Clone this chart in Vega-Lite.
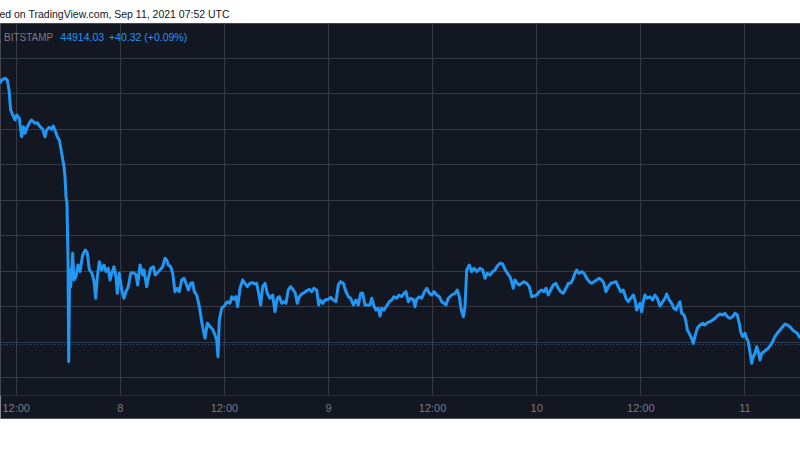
{
"$schema": "https://vega.github.io/schema/vega-lite/v6.json",
"width": 800, "height": 372,
"autosize": {"type": "none"},
"padding": {"left": 0, "right": 0, "top": 23, "bottom": 55},
"background": "#ffffff",
"title": {"text": "Published on TradingView.com, Sep 11, 2021 07:52 UTC", "anchor": "start", "frame": "group", "dx": -35, "dy": 11.5, "offset": 6, "baseline": "alphabetic", "fontSize": 10.5, "font": "Liberation Sans", "fontWeight": "normal", "color": "#131722"},
"config": {"view": {"fill": "#131722", "stroke": "#434651", "strokeWidth": 1}, "font": "Liberation Sans"},
"resolve": {"axis": {"x": "independent"}},
"layer": [
{"data": {"values": [{"label": "last"}]},
 "mark": {"type": "rule", "color": "#2196f3", "strokeDash": [1, 2], "strokeWidth": 1, "opacity": 0.6},
 "encoding": {"y": {"datum": 44914.03, "type": "quantitative", "title": null, "scale": {"domain": [43495, 53974], "nice": false, "zero": false}}}},
{"data": {"values": [
{"hours":10.19,"price":52276},{"hours":10.39,"price":52368},{"hours":10.77,"price":52416},{"hours":11.03,"price":52368},{"hours":11.23,"price":52087},{"hours":11.42,"price":51523},{"hours":11.65,"price":51383},{"hours":11.92,"price":51242},{"hours":12.11,"price":51383},{"hours":12.41,"price":51290},{"hours":12.69,"price":50771},{"hours":12.88,"price":51053},{"hours":13.07,"price":50867},{"hours":13.27,"price":51008},{"hours":13.65,"price":51194},{"hours":13.84,"price":51242},{"hours":14.22,"price":51149},{"hours":14.49,"price":51166},{"hours":14.80,"price":51053},{"hours":15.11,"price":50980},{"hours":15.38,"price":50771},{"hours":15.57,"price":50960},{"hours":15.87,"price":51036},{"hours":16.15,"price":50980},{"hours":16.33,"price":51073},{"hours":16.53,"price":50960},{"hours":16.79,"price":50771},{"hours":17.03,"price":50678},{"hours":17.30,"price":50304},{"hours":17.57,"price":49926},{"hours":17.68,"price":49645},{"hours":17.80,"price":49081},{"hours":17.91,"price":48895},{"hours":17.99,"price":47769},{"hours":18.03,"price":47391},{"hours":18.11,"price":44433},{"hours":18.22,"price":47016},{"hours":18.34,"price":46546},{"hours":18.57,"price":47487},{"hours":18.72,"price":46735},{"hours":18.95,"price":46828},{"hours":19.18,"price":47157},{"hours":19.41,"price":46969},{"hours":19.72,"price":47439},{"hours":20.02,"price":47580},{"hours":20.25,"price":47504},{"hours":20.48,"price":47036},{"hours":20.80,"price":46923},{"hours":21.03,"price":46687},{"hours":21.22,"price":46219},{"hours":21.41,"price":46828},{"hours":21.64,"price":47250},{"hours":21.91,"price":47016},{"hours":22.18,"price":47157},{"hours":22.41,"price":46969},{"hours":22.67,"price":47064},{"hours":22.87,"price":46735},{"hours":23.14,"price":46969},{"hours":23.33,"price":47109},{"hours":23.56,"price":46828},{"hours":23.71,"price":46360},{"hours":23.94,"price":46923},{"hours":24.22,"price":46453},{"hours":24.48,"price":46219},{"hours":24.71,"price":46405},{"hours":24.98,"price":46546},{"hours":25.26,"price":46923},{"hours":25.56,"price":46940},{"hours":25.87,"price":46876},{"hours":26.06,"price":46594},{"hours":26.33,"price":47157},{"hours":26.64,"price":46876},{"hours":26.79,"price":47016},{"hours":27.10,"price":46546},{"hours":27.33,"price":46828},{"hours":27.56,"price":47064},{"hours":27.86,"price":47109},{"hours":28.09,"price":46876},{"hours":28.44,"price":46969},
{"hours":28.63,"price":47016},{"hours":28.94,"price":47109},{"hours":29.21,"price":47346},{"hours":29.41,"price":47298},{"hours":29.59,"price":47157},{"hours":29.87,"price":47109},{"hours":30.10,"price":46923},{"hours":30.36,"price":46405},{"hours":30.63,"price":46501},{"hours":30.86,"price":46405},{"hours":31.13,"price":46735},{"hours":31.40,"price":46783},{"hours":31.63,"price":46642},{"hours":31.90,"price":46453},{"hours":32.17,"price":46642},{"hours":32.40,"price":46659},{"hours":32.59,"price":46405},{"hours":32.86,"price":46312},{"hours":33.05,"price":46123},{"hours":33.24,"price":45890},{"hours":33.44,"price":45560},{"hours":33.62,"price":45326},{"hours":33.82,"price":45092},{"hours":34.09,"price":45515},{"hours":34.40,"price":45419},{"hours":34.71,"price":45346},{"hours":34.97,"price":45185},{"hours":35.17,"price":45045},{"hours":35.32,"price":44574},{"hours":35.47,"price":45608},{"hours":35.75,"price":45938},{"hours":36.13,"price":46031},{"hours":36.39,"price":46123},{"hours":36.70,"price":46078},{"hours":36.90,"price":46264},{"hours":37.16,"price":46191},{"hours":37.39,"price":46264},{"hours":37.59,"price":45983},{"hours":37.86,"price":46501},{"hours":38.17,"price":46735},{"hours":38.43,"price":46642},{"hours":38.70,"price":46546},{"hours":39.01,"price":46642},{"hours":39.32,"price":46659},{"hours":39.58,"price":46622},{"hours":39.78,"price":46642},{"hours":40.01,"price":46360},{"hours":40.24,"price":46031},{"hours":40.47,"price":46546},{"hours":40.74,"price":46642},{"hours":41.00,"price":46360},{"hours":41.31,"price":46219},{"hours":41.62,"price":46312},{"hours":41.89,"price":45842},{"hours":42.15,"price":46219},{"hours":42.39,"price":46264},{"hours":42.66,"price":46078},{"hours":42.93,"price":46123},{"hours":43.16,"price":46078},{"hours":43.42,"price":46453},{"hours":43.70,"price":46546},{"hours":44.00,"price":46453},{"hours":44.23,"price":46360},{"hours":44.46,"price":46078},{"hours":44.69,"price":46264},{"hours":44.97,"price":46340},{"hours":45.23,"price":46377},{"hours":45.54,"price":46433},{"hours":45.84,"price":46473},{"hours":46.12,"price":46405},{"hours":46.38,"price":46501},{"hours":46.70,"price":46453},{"hours":46.93,"price":46031},{"hours":47.08,"price":46171},
{"hours":47.39,"price":46078},{"hours":47.65,"price":46171},{"hours":48.03,"price":46191},{"hours":48.31,"price":46247},{"hours":48.61,"price":46171},{"hours":48.92,"price":46123},{"hours":49.19,"price":46594},{"hours":49.46,"price":46687},{"hours":49.76,"price":46642},{"hours":50.07,"price":46405},{"hours":50.34,"price":46264},{"hours":50.61,"price":46219},{"hours":50.92,"price":46031},{"hours":51.23,"price":46171},{"hours":51.49,"price":46031},{"hours":51.77,"price":46360},{"hours":52.00,"price":46360},{"hours":52.26,"price":46031},{"hours":52.53,"price":46031},{"hours":52.84,"price":46031},{"hours":53.04,"price":46219},{"hours":53.30,"price":46002},{"hours":53.53,"price":45890},{"hours":53.80,"price":45938},{"hours":53.99,"price":45721},{"hours":54.19,"price":45938},{"hours":54.45,"price":45890},{"hours":54.76,"price":46002},{"hours":55.06,"price":46123},{"hours":55.34,"price":46171},{"hours":55.61,"price":46264},{"hours":55.92,"price":46219},{"hours":56.18,"price":46312},{"hours":56.49,"price":46264},{"hours":56.76,"price":46360},{"hours":56.99,"price":46405},{"hours":57.26,"price":46123},{"hours":57.53,"price":46219},{"hours":57.83,"price":46191},{"hours":58.03,"price":45983},{"hours":58.22,"price":46191},{"hours":58.52,"price":46264},{"hours":58.80,"price":46219},{"hours":59.06,"price":46377},{"hours":59.38,"price":46501},{"hours":59.68,"price":46360},{"hours":59.95,"price":46312},{"hours":60.22,"price":46405},{"hours":60.53,"price":46312},{"hours":60.83,"price":46264},{"hours":61.10,"price":46123},{"hours":61.37,"price":46078},{"hours":61.60,"price":46031},{"hours":61.87,"price":46219},{"hours":62.26,"price":46312},{"hours":62.64,"price":46360},{"hours":62.90,"price":46453},{"hours":63.14,"price":46264},{"hours":63.36,"price":45890},{"hours":63.60,"price":45701},{"hours":63.79,"price":45983},{"hours":63.99,"price":47016},{"hours":64.29,"price":47157},{"hours":64.56,"price":46969},{"hours":64.83,"price":47064},{"hours":65.14,"price":46969},{"hours":65.52,"price":47064},
{"hours":65.83,"price":47016},{"hours":66.10,"price":46783},{"hours":66.36,"price":46923},{"hours":66.67,"price":46876},{"hours":66.98,"price":46969},{"hours":67.25,"price":47016},{"hours":67.52,"price":47129},{"hours":67.83,"price":47205},{"hours":68.14,"price":47185},{"hours":68.40,"price":47036},{"hours":68.67,"price":46923},{"hours":68.98,"price":46828},{"hours":69.17,"price":46687},{"hours":69.36,"price":46501},{"hours":69.55,"price":46735},{"hours":69.82,"price":46642},{"hours":70.05,"price":46594},{"hours":70.33,"price":46642},{"hours":70.59,"price":46687},{"hours":70.90,"price":46642},{"hours":71.20,"price":46546},{"hours":71.48,"price":46264},{"hours":71.74,"price":46284},{"hours":72.06,"price":46312},{"hours":72.36,"price":46405},{"hours":72.63,"price":46453},{"hours":72.90,"price":46405},{"hours":73.13,"price":46501},{"hours":73.39,"price":46312},{"hours":73.67,"price":46453},{"hours":73.97,"price":46594},{"hours":74.28,"price":46642},{"hours":74.55,"price":46501},{"hours":74.82,"price":46405},{"hours":75.12,"price":46360},{"hours":75.43,"price":46501},{"hours":75.70,"price":46642},{"hours":75.97,"price":46642},{"hours":76.20,"price":46735},{"hours":76.47,"price":46923},{"hours":76.67,"price":47016},{"hours":76.93,"price":46923},{"hours":77.24,"price":46969},{"hours":77.51,"price":46923},{"hours":77.82,"price":46783},{"hours":78.12,"price":46687},{"hours":78.40,"price":46642},{"hours":78.66,"price":46687},{"hours":78.97,"price":46735},{"hours":79.27,"price":46783},{"hours":79.55,"price":46735},{"hours":79.81,"price":46642},{"hours":80.04,"price":46405},{"hours":80.31,"price":46546},{"hours":80.59,"price":46642},{"hours":80.89,"price":46659},{"hours":81.20,"price":46687},{"hours":81.46,"price":46546},{"hours":81.74,"price":46405},{"hours":82.04,"price":46453},{"hours":82.35,"price":46219},{"hours":82.61,"price":46123},{"hours":82.89,"price":46219},{"hours":83.19,"price":46312},{"hours":83.39,"price":46171},{"hours":83.58,"price":45890},{"hours":83.77,"price":45983},{"hours":83.96,"price":46078},
{"hours":84.16,"price":45842},{"hours":84.34,"price":46123},{"hours":84.54,"price":46312},{"hours":84.80,"price":46219},{"hours":85.12,"price":46264},{"hours":85.43,"price":46171},{"hours":85.69,"price":46312},{"hours":85.96,"price":46219},{"hours":86.27,"price":46002},{"hours":86.58,"price":46123},{"hours":86.85,"price":46219},{"hours":87.04,"price":46340},{"hours":87.34,"price":46171},{"hours":87.62,"price":46078},{"hours":87.88,"price":45938},{"hours":88.11,"price":45890},{"hours":88.38,"price":46031},{"hours":88.57,"price":46123},{"hours":88.77,"price":45797},{"hours":89.04,"price":45749},{"hours":89.27,"price":45560},{"hours":89.42,"price":45326},{"hours":89.64,"price":45233},{"hours":89.92,"price":45092},{"hours":90.11,"price":44952},{"hours":90.30,"price":45138},{"hours":90.57,"price":45374},{"hours":90.88,"price":45467},{"hours":91.20,"price":45515},{"hours":91.46,"price":45467},{"hours":91.72,"price":45532},{"hours":92.03,"price":45560},{"hours":92.34,"price":45608},{"hours":92.61,"price":45656},{"hours":92.87,"price":45721},{"hours":93.18,"price":45777},{"hours":93.50,"price":45749},{"hours":93.76,"price":45797},{"hours":94.03,"price":45701},{"hours":94.34,"price":45656},{"hours":94.65,"price":45701},{"hours":94.91,"price":45797},{"hours":95.18,"price":45749},{"hours":95.41,"price":45515},{"hours":95.57,"price":45278},{"hours":95.80,"price":45138},{"hours":96.07,"price":45233},{"hours":96.26,"price":45092},{"hours":96.45,"price":44997},{"hours":96.64,"price":44715},{"hours":96.84,"price":44388},{"hours":97.02,"price":44574},{"hours":97.22,"price":44670},{"hours":97.42,"price":44856},{"hours":97.60,"price":44715},{"hours":97.80,"price":44481},{"hours":97.99,"price":44670},{"hours":98.26,"price":44715},{"hours":98.49,"price":44763},{"hours":98.75,"price":44811},{"hours":99.03,"price":44904},{"hours":99.26,"price":44997},{"hours":99.52,"price":45138},{"hours":99.79,"price":45233},{"hours":100.10,"price":45326},{"hours":100.41,"price":45419},{"hours":100.68,"price":45495},{"hours":100.94,"price":45467},{"hours":101.25,"price":45419},{"hours":101.56,"price":45326},{"hours":101.83,"price":45278},{"hours":102.10,"price":45233},{"hours":102.41,"price":45092}
 ]},
 "mark": {"type": "line", "color": "#2196f3", "strokeWidth": 3, "strokeJoin": "round"},
 "encoding": {
  "x": {"field": "hours", "type": "quantitative", "title": null,
        "scale": {"domain": [10.19, 102.41], "nice": false, "zero": false},
        "axis": {"orient": "bottom", "values": [12, 24, 36, 48, 60, 72, 84, 96], "labels": false, "grid": true, "gridColor": "#363a45", "gridWidth": 1, "ticks": false, "domain": true, "domainColor": "#131722", "domainWidth": 23, "offset": 11.5, "zindex": 0}},
  "y": {"field": "price", "type": "quantitative", "title": null,
        "scale": {"domain": [43495, 53974], "nice": false, "zero": false},
        "axis": {"values": [44000, 45000, 46000, 47000, 48000, 49000, 50000, 51000, 52000, 53000], "grid": true, "gridColor": "#363a45", "gridWidth": 1, "labels": false, "ticks": false, "domain": false}}
 }},
{"data": {"values": [{"label": "BTCUSD, 3, BITSTAMP"}]},
 "mark": {"type": "text", "align": "right", "baseline": "alphabetic", "fontSize": 10, "color": "#787b86"},
 "encoding": {"x": {"datum": 16.33, "type": "quantitative", "title": null, "axis": null, "scale": {"domain": [10.19, 102.41], "nice": false, "zero": false}},
              "y": {"datum": 53481, "type": "quantitative", "title": null, "scale": {"domain": [43495, 53974], "nice": false, "zero": false}},
              "text": {"field": "label"}}},
{"data": {"values": [{"label": "44914.03"}]},
 "mark": {"type": "text", "align": "left", "baseline": "alphabetic", "fontSize": 10.5, "color": "#2196f3"},
 "encoding": {"x": {"datum": 17.14, "type": "quantitative", "title": null, "scale": {"domain": [10.19, 102.41], "nice": false, "zero": false},
                    "axis": {"orient": "bottom", "values": [12, 24, 36, 48, 60, 72, 84, 96], "labelExpr": "datum.value % 24 == 0 ? toString(datum.value / 24 + 7) : '12:00'", "grid": false, "ticks": false, "domain": true, "domainColor": "#50535e", "domainWidth": 1, "offset": 23, "labelBaseline": "alphabetic", "labelPadding": -6.5, "labelColor": "#787b86", "labelFontSize": 11, "labelFlush": false, "labelOverlap": false, "labelFont": "Liberation Sans", "zindex": 1}},
              "y": {"datum": 53481, "type": "quantitative", "title": null, "scale": {"domain": [43495, 53974], "nice": false, "zero": false}},
              "text": {"field": "label"}}},
{"data": {"values": [{"label": "+40.32 (+0.09%)"}]},
 "mark": {"type": "text", "align": "left", "baseline": "alphabetic", "fontSize": 10.5, "color": "#2196f3"},
 "encoding": {"x": {"datum": 22.75, "type": "quantitative", "title": null, "axis": null, "scale": {"domain": [10.19, 102.41], "nice": false, "zero": false}},
              "y": {"datum": 53481, "type": "quantitative", "title": null, "scale": {"domain": [43495, 53974], "nice": false, "zero": false}},
              "text": {"field": "label"}}}
]
}
